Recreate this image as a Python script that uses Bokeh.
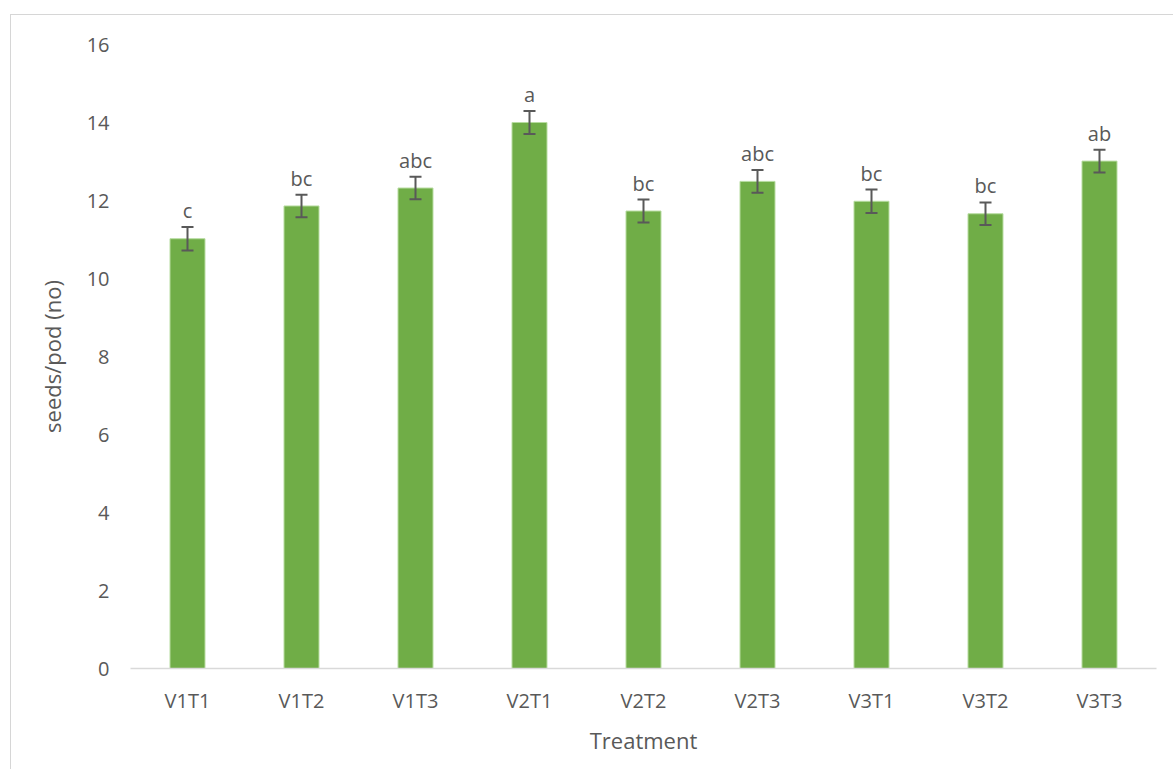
from bokeh.plotting import figure
from bokeh.models import ColumnDataSource, Whisker, TeeHead, LabelSet, FixedTicker
from bokeh.embed import file_html
from bokeh.resources import INLINE
from bokeh.core.properties import value

treatments = ["V1T1", "V1T2", "V1T3", "V2T1", "V2T2", "V2T3", "V3T1", "V3T2", "V3T3"]
seeds_per_pod = [11.02, 11.86, 12.32, 14.00, 11.73, 12.49, 11.98, 11.66, 13.01]
errors = [0.30, 0.29, 0.29, 0.295, 0.295, 0.29, 0.30, 0.29, 0.29]
letters = ["c", "bc", "abc", "a", "bc", "abc", "bc", "bc", "ab"]
y_ticks = [0, 2, 4, 6, 8, 10, 12, 14, 16]

FONT = "Open Sans"
TXT = "#595959"

src = ColumnDataSource(dict(
    x=treatments,
    y=seeds_per_pod,
    upper=[v + e for v, e in zip(seeds_per_pod, errors)],
    lower=[v - e for v, e in zip(seeds_per_pod, errors)],
    lab=letters,
))

p = figure(
    x_range=treatments, y_range=(0, 16),
    width=1163, height=755,
    output_backend="svg", toolbar_location=None,
    min_border_left=119, min_border_right=18,
    min_border_top=29, min_border_bottom=102,
)
p.x_range.range_padding = 0
p.styles = {"margin-left": "10px", "margin-top": "14px",
            "border-left": "1px solid #d6d6d6", "border-top": "1px solid #d6d6d6"}

p.vbar(x="x", top="y", width=0.307, source=src,
       fill_color="#70AD47", line_color="#b7dca0", line_width=1)

w = Whisker(base="x", upper="upper", lower="lower", source=src,
            line_color="#595959", line_width=2, level="overlay",
            upper_head=TeeHead(size=12, line_color="#595959", line_width=2),
            lower_head=TeeHead(size=12, line_color="#595959", line_width=2))
p.add_layout(w)

labels = LabelSet(x="x", y="upper", text="lab", source=src,
                  text_align="center", text_baseline="bottom", y_offset=3,
                  text_font=value(FONT), text_font_size="20px", text_color=TXT,
                  level="overlay")
p.add_layout(labels)

p.xgrid.grid_line_color = None
p.ygrid.grid_line_color = None
p.outline_line_color = None

p.yaxis.ticker = FixedTicker(ticks=y_ticks)
p.yaxis.axis_line_color = None
p.yaxis.major_tick_line_color = None
p.yaxis.minor_tick_line_color = None
p.yaxis.major_label_standoff = 15
p.yaxis.axis_label = "seeds/pod (no)"
p.yaxis.axis_label_standoff = 17

p.xaxis.axis_line_color = "#d9d9d9"
p.xaxis.axis_line_width = 1.5
p.xaxis.major_tick_line_color = None
p.xaxis.minor_tick_line_color = None
p.xaxis.major_label_standoff = 12
p.xaxis.axis_label = "Treatment"
p.xaxis.axis_label_standoff = 8

for ax in (p.xaxis, p.yaxis):
    ax.major_label_text_font = FONT
    ax.major_label_text_font_size = "20px"
    ax.major_label_text_color = TXT
    ax.axis_label_text_font = FONT
    ax.axis_label_text_font_size = "22px"
    ax.axis_label_text_font_style = "normal"
    ax.axis_label_text_color = TXT

p.background_fill_color = "white"
p.border_fill_color = "white"

open("out.html", "w").write(file_html(p, INLINE))
